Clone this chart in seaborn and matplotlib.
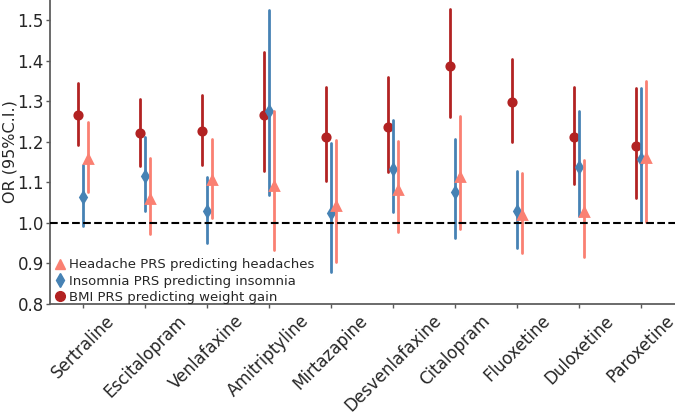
import numpy as np
import pandas as pd
import seaborn as sns
import matplotlib
matplotlib.use("Agg")
import matplotlib.pyplot as plt
from matplotlib.lines import Line2D

drugs = ["Sertraline", "Escitalopram", "Venlafaxine", "Amitriptyline", "Mirtazapine",
         "Desvenlafaxine", "Citalopram", "Fluoxetine", "Duloxetine", "Paroxetine"]

bmi_or = [1.266, 1.221, 1.227, 1.267, 1.213, 1.237, 1.388, 1.298, 1.211, 1.191]
bmi_lo = [1.192, 1.140, 1.144, 1.128, 1.103, 1.126, 1.261, 1.199, 1.096, 1.062]
bmi_hi = [1.346, 1.306, 1.316, 1.421, 1.335, 1.360, 1.528, 1.405, 1.336, 1.333]

ins_or = [1.064, 1.117, 1.030, 1.277, 1.025, 1.134, 1.077, 1.030, 1.139, 1.158]
ins_lo = [0.993, 1.029, 0.951, 1.070, 0.879, 1.026, 0.962, 0.939, 1.016, 1.004]
ins_hi = [1.142, 1.211, 1.114, 1.525, 1.198, 1.255, 1.206, 1.128, 1.276, 1.333]

hed_or = [1.158, 1.060, 1.105, 1.091, 1.041, 1.082, 1.114, 1.019, 1.028, 1.160]
hed_lo = [1.077, 0.972, 1.012, 0.934, 0.904, 0.978, 0.984, 0.925, 0.917, 1.002]
hed_hi = [1.249, 1.160, 1.207, 1.277, 1.204, 1.201, 1.263, 1.123, 1.156, 1.349]

series_names = ["BMI PRS predicting weight gain",
                "Insomnia PRS predicting insomnia",
                "Headache PRS predicting headaches"]
series_colors = ["#B22222", "#4682B4", "#FA8072"]
series_markers = ["o", "d", "^"]

rows = []
for name, o, lo, hi in zip(series_names,
                           [bmi_or, ins_or, hed_or],
                           [bmi_lo, ins_lo, hed_lo],
                           [bmi_hi, ins_hi, hed_hi]):
    for d, a, b, c in zip(drugs, o, lo, hi):
        for v in (b, a, c):
            rows.append({"drug": d, "series": name, "OR": v})
df = pd.DataFrame(rows)

sns.set_style("ticks")
plt.rcParams["font.family"] = ["DejaVu Sans"]

fig = plt.figure(figsize=(6.75, 4.12), dpi=100)
ax = fig.add_axes([50 / 675, 1 - 304 / 412, 1 - 50 / 675, 304 / 412])

sns.pointplot(data=df, x="drug", y="OR", hue="series", order=drugs,
              hue_order=series_names, palette=series_colors,
              markers=series_markers, linestyles="none", dodge=0.17,
              estimator="median", errorbar=lambda x: (np.min(x), np.max(x)),
              err_kws={"linewidth": 2.0}, markersize=5.3, ax=ax)

ax.axhline(1.0, color="black", linestyle="--", linewidth=1.5, zorder=3)

ax.set_xlim(-0.53, 9.55)
ax.set_ylim(0.8, 1.55)
ax.set_yticks(np.arange(0.8, 1.51, 0.1))
ax.set_yticklabels([f"{v:.1f}" for v in np.arange(0.8, 1.51, 0.1)], fontsize=12)
ax.set_xticks(range(len(drugs)))
ax.set_xticklabels(drugs, rotation=45, fontsize=12)
ax.set_xlabel("")
ax.set_ylabel("OR (95%C.I.)", fontsize=11.5)
ax.yaxis.set_label_coords((17.5 - 50) / 625, 0.5)
ax.tick_params(axis="x", length=3, width=1, pad=2.5, color="0.35")
ax.tick_params(axis="y", length=3, width=1, pad=1.5, color="0.35")
sns.despine(ax=ax)
for s in ("left", "bottom"):
    ax.spines[s].set_color("0.35")
    ax.spines[s].set_linewidth(1.25)

if ax.get_legend() is not None:
    ax.get_legend().remove()
order = [2, 1, 0]
handles = [Line2D([], [], color=series_colors[i], marker=series_markers[i],
                  linestyle="none", markersize=7) for i in order]
labels = [series_names[i] for i in order]
ax.legend(handles, labels, loc="lower left", bbox_to_anchor=(0.003, 0.0),
          frameon=False, fontsize=9.5, handletextpad=0.1, labelspacing=0.25,
          borderaxespad=0, borderpad=0, handlelength=1.2)

fig.savefig("out.png", dpi=100)
